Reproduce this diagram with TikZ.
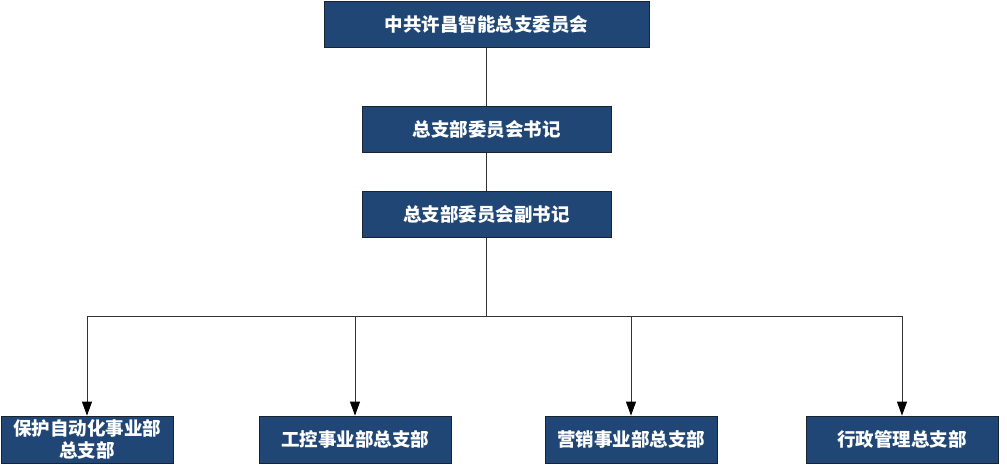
\documentclass[tikz,border=0pt]{standalone}
\usepackage{fontspec}
\newfontfamily\cjk{Noto Sans CJK SC}
\usepackage{tikz}
\usetikzlibrary{arrows,arrows.meta,positioning}
\definecolor{boxblue}{RGB}{31,70,117}
\definecolor{boxline}{RGB}{25,35,50}
\tikzset{orgbox/.style={draw=boxline, fill=boxblue, text=white, line width=0.8pt,
		minimum height=46pt, inner sep=2pt, align=center,
		font=\cjk\bfseries\fontsize{18.5}{22}\selectfont}}
\tikzset{link/.style={draw=black!80, line width=0.9pt}}
\tikzset{down/.style={link, -{Triangle[width=10pt,length=14pt,black]}}}

\begin{document}
\begin{tikzpicture}[x=1pt, y=1pt]
				\useasboundingbox (0,0) rectangle (1007,-471);
				\node[orgbox, minimum width=325pt] (dwh) at (486.5,-24.5) {中共许昌智能总支委员会};
				\node[orgbox, minimum width=249pt, below=58pt of dwh] (shuji) {总支部委员会书记};
				\node[orgbox, minimum width=249pt, below=38pt of shuji] (fushuji) {总支部委员会副书记};
				\coordinate (fenzhi) at (486.5,-316);
				
				\node[orgbox, minimum width=172pt, minimum height=47pt] (baohu) at (87,-439.5) {保护自动化事业部\\总支部};
				\node[orgbox, minimum width=192pt, minimum height=47pt] (gongkong) at (355,-439.5) {工控事业部总支部};
				\node[orgbox, minimum width=172pt, minimum height=47pt] (yingxiao) at (631,-439.5) {营销事业部总支部};
				\node[orgbox, minimum width=192pt, minimum height=47pt] (xingzheng) at (902,-439.5) {行政管理总支部};
				
				\draw[link] (dwh) -- (shuji);
				\draw[link] (shuji) -- (fushuji);
				\draw[link] (fushuji) -- (fenzhi);
				\foreach \b in {baohu,gongkong,yingxiao,xingzheng}
				\draw[down] (fenzhi) -| (\b);
				
\end{tikzpicture}
\end{document}
